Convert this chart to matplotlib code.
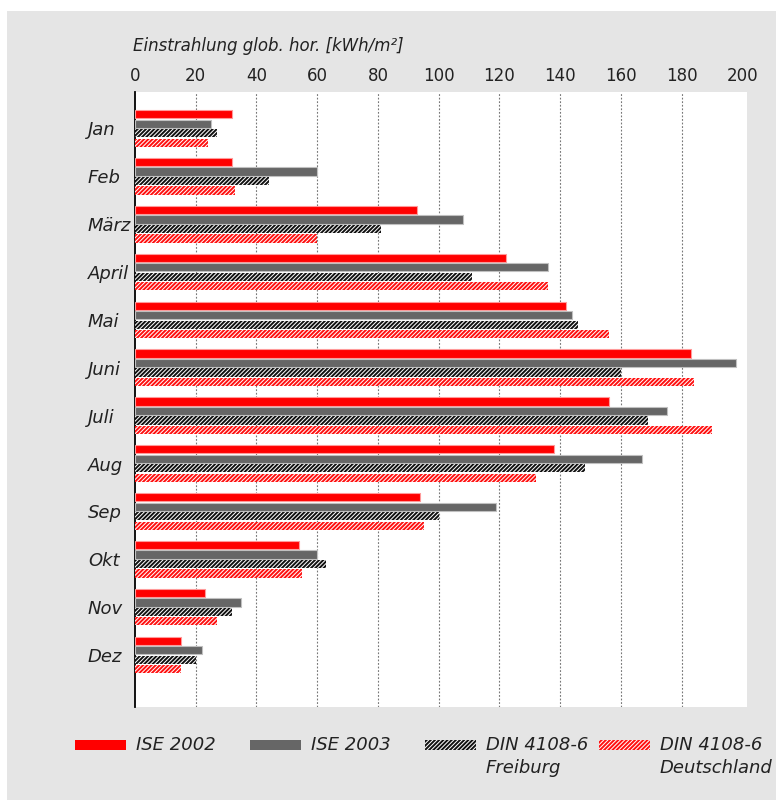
import numpy as np
import matplotlib
matplotlib.use("Agg")
import matplotlib.pyplot as plt
from matplotlib.patches import Rectangle

plt.rcParams['font.family'] = ['DejaVu Sans']
plt.rcParams['hatch.linewidth'] = 1.4

# Monthly global horizontal irradiation [kWh/m²]
months = ["Jan", "Feb", "März", "April", "Mai", "Juni",
          "Juli", "Aug", "Sep", "Okt", "Nov", "Dez"]
ise_2002 = [32, 32, 93, 122, 142, 183, 156, 138, 94, 54, 23, 15]
ise_2003 = [25, 60, 108, 136, 144, 198, 175, 167, 119, 60, 35, 22]
din_freiburg = [27, 44, 81, 111, 146, 160, 169, 148, 100, 63, 32, 20]
din_deutschland = [24, 33, 60, 136, 156, 184, 190, 132, 95, 55, 27, 15]

series_labels = [["ISE 2002"], ["ISE 2003"],
                 ["DIN 4108-6", "Freiburg"], ["DIN 4108-6", "Deutschland"]]
x_ticks = list(range(0, 201, 20))
axis_title = "Einstrahlung glob. hor. [kWh/m²]"

W, H = 780, 800
TEXT = "#222222"
RED = "#ff0000"
GRAY = "#666666"
HATCH = "////////"

fig = plt.figure(figsize=(W / 100, H / 100), dpi=100)
fig.patch.set_facecolor("white")


def fx(x):
    return x / W


def fy(y):
    return 1 - y / H


# light gray panel behind everything
fig.add_artist(Rectangle((fx(7), fy(800)), fx(776) - fx(7), fy(11) - fy(800),
                         transform=fig.transFigure, facecolor="#e5e5e5",
                         edgecolor="none", zorder=-10))

ax = fig.add_axes([fx(135), fy(707), fx(747) - fx(135), fy(92) - fy(707)])
ax.set_facecolor("white")

pitch = 47.9
ax.set_xlim(0, 201.5)
ax.set_ylim(11 + 52 / pitch, -36.5 / pitch)

y = np.arange(len(months))
step = 0.198
h = 0.172

ax.barh(y - 1.5 * step, ise_2002, height=h, color=RED,
        edgecolor="#ff9a9a", linewidth=0.8, zorder=3)
ax.barh(y - 0.5 * step, ise_2003, height=h, color=GRAY,
        edgecolor="#c0c0c0", linewidth=0.8, zorder=3)
ax.barh(y + 0.5 * step, din_freiburg, height=h, color="white",
        edgecolor="#111111", hatch=HATCH, linewidth=0, zorder=3)
ax.barh(y + 1.5 * step, din_deutschland, height=h, color="white",
        edgecolor="#ff1010", hatch=HATCH, linewidth=0, zorder=3)

# axes styling
ax.set_xticks(x_ticks)
ax.xaxis.tick_top()
ax.tick_params(axis="x", length=0, pad=5, labelsize=12, labelcolor=TEXT)
ax.grid(axis="x", linestyle=(0, (1.6, 1.6)), color="#777777", linewidth=0.8)
gl = ax.get_xgridlines()
gl[0].set_visible(False)
gl[-1].set_visible(False)
ax.set_axisbelow(True)

ax.set_yticks(y)
ax.set_yticklabels(months)
ax.tick_params(axis="y", length=0, pad=(135 - 88) * 0.72, labelsize=13,
               labelcolor=TEXT)
for lab in ax.get_yticklabels():
    lab.set_ha("left")
    lab.set_style("italic")

for side in ("top", "right", "bottom"):
    ax.spines[side].set_visible(False)
ax.spines["left"].set_color("black")
ax.spines["left"].set_linewidth(1.3)

fig.text(fx(133), fy(46), axis_title, style="italic", fontsize=12,
         color=TEXT, ha="left", va="center")

# legend along the bottom
legend_styles = [
    dict(facecolor=RED, edgecolor="none"),
    dict(facecolor=GRAY, edgecolor="none"),
    dict(facecolor="white", edgecolor="#111111", hatch=HATCH, linewidth=0),
    dict(facecolor="white", edgecolor="#ff1010", hatch=HATCH, linewidth=0),
]
patch_x = [75, 250, 425, 599]
for px_, style, lines in zip(patch_x, legend_styles, series_labels):
    fig.add_artist(Rectangle((fx(px_), fy(750)), fx(51), 10 / H,
                             transform=fig.transFigure, **style))
    for i, line in enumerate(lines):
        fig.text(fx(px_ + 61), fy(745 + 23 * i), line, style="italic",
                 fontsize=13, color=TEXT, ha="left", va="center")

fig.savefig("out.png", dpi=100)
